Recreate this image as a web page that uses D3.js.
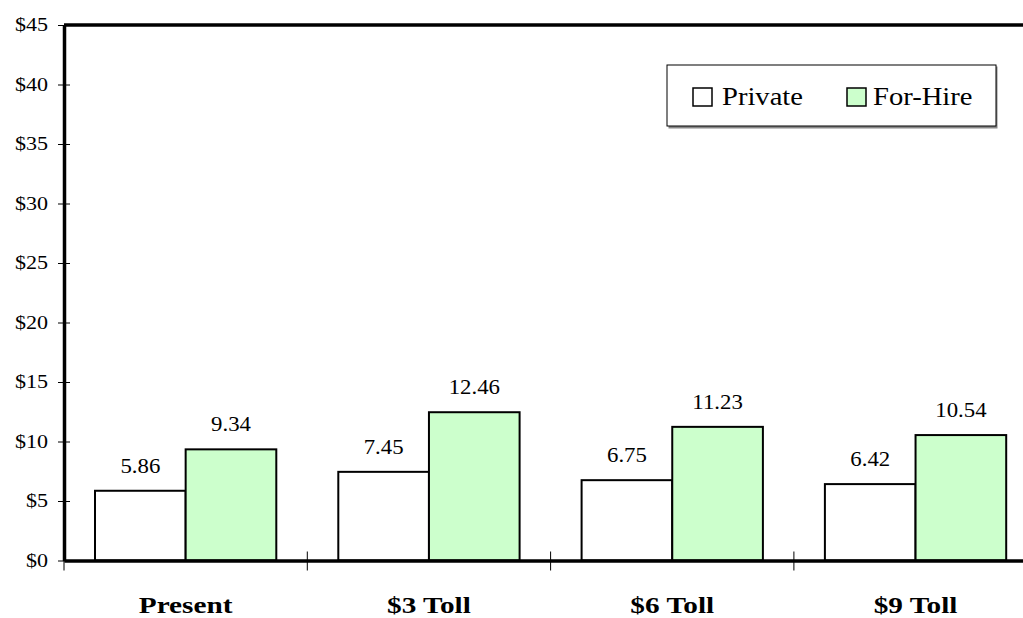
<!DOCTYPE html>
<html>
<head>
<meta charset="utf-8">
<script src="https://cdn.jsdelivr.net/npm/d3@7"></script>
<style>
  html, body { margin: 0; padding: 0; background: #fff; }
  svg { display: block; }
</style>
</head>
<body>
<svg id="chart" width="1023" height="618"></svg>
<script>
// Average cost per trip by toll scenario
const categories = ["Present", "$3 Toll", "$6 Toll", "$9 Toll"];
const seriesNames = ["Private", "For-Hire"];
const privateValues = [5.86, 7.45, 6.75, 6.42];
const forHireValues = [9.34, 12.46, 11.23, 10.54];
const yTicks = [0, 5, 10, 15, 20, 25, 30, 35, 40, 45];

const colors = { "Private": "#ffffff", "For-Hire": "#ccffcc" };
const series = [privateValues, forHireValues];

const svg = d3.select("#chart");
const margin = { left: 64, top: 25, bottom: 560.5 };
const plotRight = 64 + 4 * 243.3;
const font = "'Liberation Serif', 'Times New Roman', serif";
const wide = 1.14; // horizontal stretch of the lettering

const x = d3.scaleBand().domain(categories).range([margin.left, plotRight]).paddingInner(0).paddingOuter(0);
const inner = d3.scaleBand().domain(seriesNames).range([31, x.bandwidth() - 31]).padding(0);
const y = d3.scaleLinear().domain([0, 45]).range([margin.bottom, margin.top]);

function label(parent, tx, ty, str, size, anchor, sx, weight) {
  return parent.append("text")
    .attr("transform", `translate(${tx},${ty}) scale(${sx},1)`)
    .attr("text-anchor", anchor)
    .style("font-family", font)
    .style("font-size", size + "px")
    .style("font-weight", weight || "normal")
    .attr("fill", "#000")
    .text(str);
}

// bars with value labels
categories.forEach((cat, i) => {
  seriesNames.forEach((name, s) => {
    const v = series[s][i];
    svg.append("rect")
      .attr("x", x(cat) + inner(name))
      .attr("y", y(v))
      .attr("width", inner.bandwidth())
      .attr("height", y(0) - y(v))
      .attr("fill", colors[name])
      .attr("stroke", "#000")
      .attr("stroke-width", 2);
    label(svg, x(cat) + inner(name) + inner.bandwidth() / 2, y(v) - 18, v.toFixed(2), 20, "middle", wide);
  });
});

// plot frame top
svg.append("line")
  .attr("x1", margin.left).attr("x2", plotRight)
  .attr("y1", margin.top).attr("y2", margin.top)
  .attr("stroke", "#000").attr("stroke-width", 3.5);

// y axis
const yAxis = svg.append("g").attr("transform", `translate(${margin.left},0)`)
  .call(d3.axisLeft(y).tickValues(yTicks).tickFormat(d => "$" + d).tickSize(6).tickSizeOuter(0));
yAxis.select(".domain").attr("stroke-width", 3.5);
yAxis.selectAll(".tick line").attr("x2", 6).attr("x1", -6).attr("stroke-width", 1);
yAxis.selectAll(".tick text").remove();
yAxis.selectAll(".tick").each(function (d) {
  label(d3.select(this), -16, 5.5, "$" + d, 19, "end", 1.16);
});

// x axis
const xAxis = svg.append("g").attr("transform", `translate(0,${margin.bottom})`)
  .call(d3.axisBottom(x).tickSize(0).tickSizeOuter(0));
xAxis.select(".domain").attr("stroke-width", 3.5);
xAxis.selectAll(".tick line").remove();
xAxis.selectAll(".tick text").remove();
xAxis.selectAll(".tick").each(function (d) {
  label(d3.select(this), 0, 52.5, d, 24, "middle", 1.22, "bold");
});
// category dividers
const edges = categories.map(c => x(c)).concat([plotRight]);
xAxis.selectAll(".divider").data(edges).enter().append("line")
  .attr("class", "divider")
  .attr("x1", d => d).attr("x2", d => d)
  .attr("y1", (d, i) => i === 0 ? 0 : -9).attr("y2", 10)
  .attr("stroke", "#000").attr("stroke-width", 1);

// legend
const lg = svg.append("g").attr("transform", "translate(667,65)");
lg.append("rect").attr("x", 1.5).attr("y", 1.5).attr("width", 329).attr("height", 62).attr("fill", "#888");
lg.append("rect").attr("width", 329).attr("height", 61).attr("fill", "#fff").attr("stroke", "#000").attr("stroke-width", 1);
const items = [{ name: "Private", sx: 26, tx: 55 }, { name: "For-Hire", sx: 180, tx: 206 }];
items.forEach(it => {
  lg.append("rect").attr("x", it.sx).attr("y", 23).attr("width", 19).attr("height", 18)
    .attr("fill", colors[it.name]).attr("stroke", "#000").attr("stroke-width", 1.5);
  label(lg, it.tx, 39.5, it.name, 26, "start", 1.1);
});
</script>
</body>
</html>
